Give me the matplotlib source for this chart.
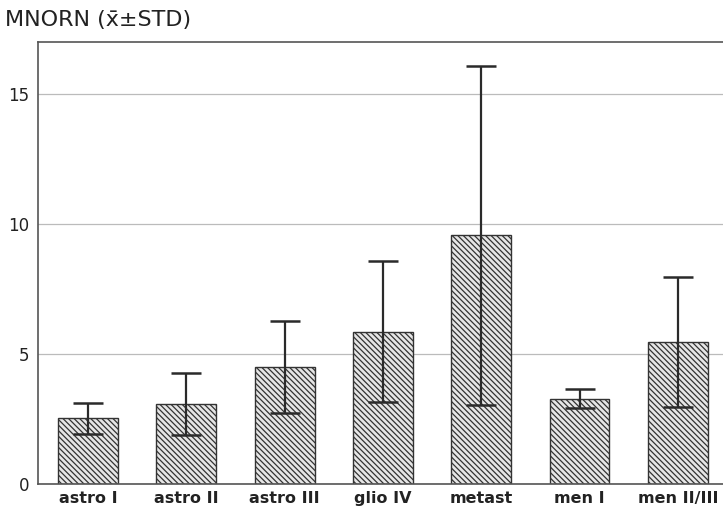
import matplotlib.pyplot as plt
import matplotlib as mpl

groups = ["astro I", "astro II", "astro III", "glio IV", "metast", "men I", "men II/III"]
means = [2.52, 3.08, 4.5, 5.86, 9.56, 3.28, 5.46]
stds = [0.58, 1.2, 1.78, 2.7, 6.52, 0.36, 2.5]

mpl.rcParams["font.family"] = ["DejaVu Sans"]
mpl.rcParams["hatch.linewidth"] = 0.9
mpl.rcParams["hatch.color"] = "#3a3a3a"

fig = plt.figure(figsize=(7.23, 5.16), dpi=100)
ax = fig.add_axes([0.0526, 0.062, 0.9474, 0.8566])

x = range(len(groups))
ax.bar(x, means, width=0.61, color="#e6e6e6", edgecolor="#333333", linewidth=1.0,
       hatch="\\" * 6, zorder=2)
ax.errorbar(x, means, yerr=stds, fmt="none", ecolor="#2a2a2a", elinewidth=1.6,
            capsize=11, capthick=1.8, zorder=3)

ax.set_xlim(-0.51, 6.46)
ax.set_ylim(0, 17)
ax.set_yticks([0, 5, 10, 15])
ax.yaxis.grid(True, color="#bbbbbb", linewidth=0.9, zorder=0)
ax.set_axisbelow(True)
ax.set_xticks(list(x))
ax.set_xticklabels(groups, fontsize=11.5, fontweight="bold", color="#222222")
ax.tick_params(axis="y", labelsize=12, colors="#222222", length=0, pad=6)
ax.tick_params(axis="x", length=0, pad=5)
for s in ["left", "bottom", "top"]:
    ax.spines[s].set_color("#555555")
    ax.spines[s].set_linewidth(1.2)
ax.spines["right"].set_visible(False)

fig.text(0.007, 0.962, "MNORN (x\u0304\u00b1STD)", fontsize=16, color="#222222", va="center")

fig.savefig("out.png", dpi=100)
